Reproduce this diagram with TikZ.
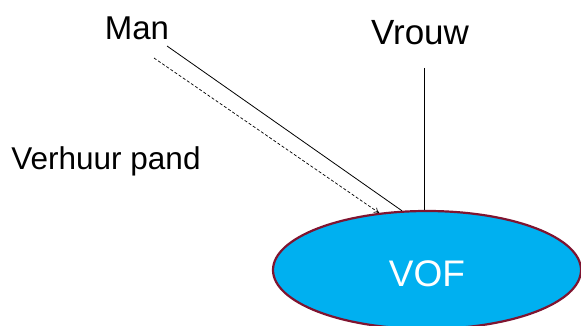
\documentclass[tikz,border=0pt]{standalone}
\usepackage{fontspec}
\setmainfont{Liberation Sans}
\usetikzlibrary{shapes.geometric,arrows.meta}

\definecolor{vofblue}{HTML}{00B0F0}
\definecolor{vofrim}{HTML}{7F1430}

\tikzset{
    label/.style={inner sep=0pt,anchor=base},
    bond/.style={draw,line width=0.8pt},
    rent/.style={draw,line width=0.7pt,dash pattern=on 3pt off 2pt,-{To[length=5pt,width=6pt]}}
}

\begin{document}
\begin{tikzpicture}[x=1pt,y=1pt]
                \useasboundingbox (0,0) rectangle (581,-326);
                \node[label,font=\fontsize{33}{40}\selectfont](man) at (137,-40){Man};
                \node[label,font=\fontsize{35}{42}\selectfont](vrouw) at (420,-45){Vrouw};
                \node[label,font=\fontsize{31.5}{38}\selectfont](verhuur) at (106,-170){Verhuur pand};
                \node[ellipse,draw=vofrim,line width=2.2pt,fill=vofblue,minimum width=308pt,minimum height=118pt,inner sep=0pt](vof) at (427,-270){};
                \node[label,font=\fontsize{37}{44}\selectfont,text=white](voftext) at (427,-286){VOF};
                \coordinate (m1) at (167,-46);
                \coordinate (m2) at (154,-58);
                \coordinate (v1) at (424,-68);
                \path[bond](m1) -- (vof.113);
                \path[bond](v1) -- (vof.north -| v1);
                \path[rent](m2) -- (vof.130);
            \end{tikzpicture}
\end{document}
